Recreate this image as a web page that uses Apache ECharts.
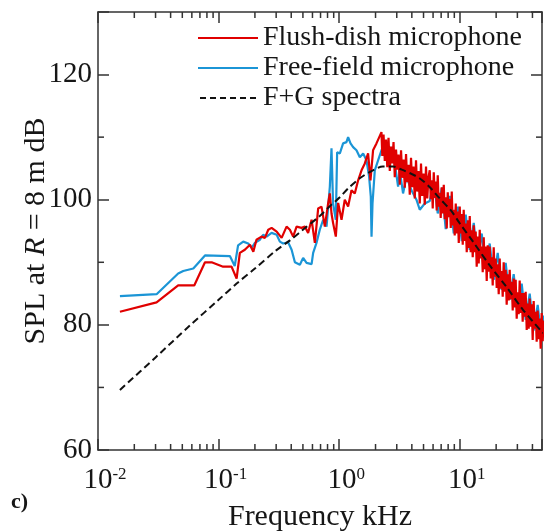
<!DOCTYPE html>
<html><head><meta charset="utf-8">
<script src="https://cdn.jsdelivr.net/npm/echarts@6/dist/echarts.min.js"></script>
<style>html,body{margin:0;padding:0;background:#fff}#c{width:545px;height:531px}</style>
</head><body><div id="c"></div>
<script>
// ---- data ----
const redFreq = [0.0152,0.0306,0.0462,0.0628,0.0771,0.0875,0.109,0.128,0.141,0.150,0.165,0.182,0.194,0.206,0.227,0.242,0.258,0.275,0.303,0.333,0.366,0.390,0.415,0.443,0.487,0.519,0.552,0.590,0.628,0.669,0.713,0.760,0.809,0.836,0.863,0.889,0.937,0.980,1.045,1.112,1.185,1.264,1.346,1.435,1.531,1.630,1.735,1.816,1.908,2.036,2.170,2.240,
  2.276,2.331,2.387,2.444,2.503,2.563,2.626,2.689,2.754,2.820,2.888,2.958,3.030,3.103,3.178,3.255,3.333,3.414,3.496,3.580,3.666,3.755,3.845,3.938,4.033,4.130,4.230,4.332,4.436,4.543,4.653,4.765,4.881,4.998,5.120,5.243,5.370,5.499,
  5.63,5.74,5.85,5.96,6.08,6.20,6.31,6.43,6.56,6.69,6.81,6.94,7.08,7.22,7.36,7.50,7.64,7.79,7.94,8.09,8.25,8.41,8.57,8.74,8.90,9.07,9.25,9.43,9.61,9.80,9.98,10.17,10.37,10.57,10.77,10.98,11.19,11.41,11.63,11.85,12.08,12.31,12.55,12.79,13.04,13.29,13.54,13.80,14.07,14.34,14.62,14.90,15.19,15.48,15.78,16.08,16.39,16.71,17.03,17.36,17.69,18.03,18.38,18.73,19.09,19.46,19.84,20.22,20.61,21.01,21.41,21.82,22.24,22.67,23.10,23.55,24.00,24.46,24.94,25.42,25.91,26.41,26.92,27.44,27.96,28.50,29.05,29.61,30.18,30.76,31.35,31.95,32.57,33.20,33.83,34.48,35.16,35.84,36.52,37.22,37.94,38.67,39.42,40.18,40.95,41.74,42.54,43.36,44.20,45.05,45.92,46.81,47.70,48.62,49.56];
const redSPL = [82.1,83.6,86.3,86.3,90.0,90.0,89.3,89.3,87.4,91.5,92.0,92.8,91.7,93.6,94.1,93.9,95.2,95.5,94.9,93.9,95.7,95.2,94.1,95.7,95.5,95.7,94.7,96.8,93.1,98.6,98.9,95.7,99.4,101.0,97.8,96.3,94.1,99.5,96.8,100.0,98.9,101.5,101.0,103.1,104.7,105.8,107.4,103.1,107.9,109.0,110.2,110.8,
  107.0,110.4,106.2,109.6,105.2,109.9,104.6,108.5,105.8,109.2,103.6,108.0,104.8,107.2,102.4,107.9,103.5,106.4,101.9,107.3,102.8,105.6,100.8,106.7,102.0,105.3,100.2,106.3,101.3,104.6,99.4,105.8,100.6,104.2,99.2,105.3,100.2,103.6,
  104.7,100.1,103.1,98.6,104.4,100.3,102.9,98.3,103.9,98.9,101.1,97.1,102.0,97.8,102.4,96.9,100.4,95.4,101.2,97.2,
  100.1,95.5,101.3,95.9,98.4,94.3,99.4,94.6,98.1,93.1,98.9,94.6,97.7,92.8,98.4,93.4,96.2,91.6,96.7,92.3,
  97.4,91.6,95.1,90.8,95.9,91.6,94.9,89.3,94.1,89.8,95.2,90.6,92.5,88.4,94.0,88.9,92.5,87.0,92.7,88.5,
  92.5,87.4,90.8,86.3,92.4,87.7,90.6,85.9,89.7,84.9,90.6,85.8,88.6,84.5,90.0,85.3,88.8,83.2,88.1,83.9,
  88.8,84.1,86.9,82.3,87.4,82.8,87.2,81.0,85.2,81.7,87.1,81.9,85.1,80.5,85.1,81.3,85.3,79.2,83.4,79.4,
  84.2,79.7,83.3,77.6,83.8,79.4,82.1,77.3,82.3,77.7,81.0,76.2,81.9,77.4,80.7];

const blueFreq = [0.0152,0.0306,0.0462,0.0509,0.0617,0.0771,0.124,0.136,0.145,0.160,0.176,0.188,0.200,0.220,0.234,0.250,0.275,0.303,0.322,0.343,0.377,0.403,0.429,0.472,0.502,0.536,0.590,0.608,0.648,0.690,0.736,0.785,0.836,0.863,0.889,0.937,0.961,1.012,1.077,1.148,1.185,1.241,1.304,1.390,1.482,1.579,1.683,1.769,1.827,1.853,1.888,1.972,2.100,2.240,2.387,2.541,2.710,2.888,3.077,3.178,3.383,3.614,3.971,4.368,4.653,5.118,
  5.63,6.08,6.56,7.08,7.64,8.25,8.90,9.61,10.37,11.19,12.08,13.04,14.07,15.19,16.39,17.69,19.09,20.61,22.24,24.00,25.91,27.96,30.18,32.57,35.16,37.94,40.95,44.20,47.70,49.56];
const blueSPL = [84.6,84.9,88.2,88.6,89.0,91.1,91.0,89.4,92.7,93.3,93.0,92.3,93.1,93.6,94.4,94.1,94.7,94.4,93.3,93.0,93.2,92.0,90.0,89.6,90.7,89.9,89.7,91.5,93.1,95.2,96.8,95.7,102.1,108.2,99.4,96.8,107.6,107.4,109.0,109.2,110.0,109.0,108.4,107.9,106.8,107.4,106.3,103.7,100.5,94.1,99.4,104.7,106.3,107.9,109.0,107.4,108.4,105.8,102.1,104.7,101.0,103.7,101.5,100.0,98.4,99.4,
  99.8,103.0,97.8,101.9,95.3,100.6,94.6,98.9,93.4,97.6,92.0,96.3,90.4,94.6,88.9,93.0,87.2,91.5,85.6,89.9,84.0,88.1,82.3,86.6,80.8,85.0,79.1,83.2,77.6,81.5];

const fgFreq = [0.0152,0.03,0.0578,0.1,0.141,0.2,0.3,0.39,0.5,0.69,0.84,1.0,1.2,1.5,1.9,2.3,2.8,3.3,4.0,4.66,5.64,6.81,8.5,10,12.86,17.7,24.3,33.4,48.9];
const fgSPL  = [69.6,74.8,79.9,84.0,86.6,89.0,91.9,93.5,95.2,97.4,99.0,100.3,101.9,103.5,104.7,105.3,105.3,104.8,104.1,103.4,102.0,100.2,98.2,96.2,93.3,89.5,86.1,82.4,78.7];

const seriesNames = ['Flush-dish microphone','Free-field microphone','F+G spectra'];
const xMinorTicks = [0.02,0.03,0.04,0.05,0.06,0.07,0.08,0.09,0.2,0.3,0.4,0.5,0.6,0.7,0.8,0.9,2,3,4,5,6,7,8,9,20,30,40];
const yMinorTicks = [70,90,110];
const yTickLabels = [60,80,100,120];
const xRange = [0.01, 48];
const yRange = [60, 130];

// ---- chart ----
const SERIF = 'Liberation Serif';
const AX = '#333333';
const TXT = '#161616';
const RED = '#e00000', BLUE = '#1b95d6', BLACK = '#111111';
const axLine = {show:true, lineStyle:{color:AX, width:1.5}};
const pairs = (xs, ys) => xs.map((x, i) => [x, ys[i]]);

function xLabel(v){
  const l = Math.log10(v);
  const r = Math.round(l);
  if (Math.abs(l - r) > 1e-6) return '';
  return '{b|10}{s|' + r + '}';
}
function yLabel(v){ return yTickLabels.indexOf(v) >= 0 ? String(v) : ''; }

function xAxis(pos, main){
  return {
    type:'log', logBase:10, min:xRange[0], max:xRange[1], position:pos,
    axisLine:axLine,
    axisTick:{show:true, inside:true, length:11, lineStyle:{color:AX, width:1.5}},
    minorTick:{show:false}, splitLine:{show:false},
    axisLabel: main ? {show:true, margin:16, formatter:xLabel, padding:[0,0,0,14],
      rich:{ b:{fontFamily:SERIF, fontSize:29, lineHeight:29, color:TXT},
             s:{fontFamily:SERIF, fontSize:17, lineHeight:17, color:TXT, verticalAlign:'top'} } } : {show:false},
    name: main ? 'Frequency kHz' : '', nameLocation:'middle', nameGap:52,
    nameTextStyle:{fontFamily:SERIF, fontSize:30, color:TXT}
  };
}
function yAxis(pos, main){
  return {
    type:'value', min:yRange[0], max:yRange[1], interval:20, position:pos,
    axisLine:axLine,
    axisTick:{show:true, inside:true, length:11, lineStyle:{color:AX, width:1.5}},
    splitLine:{show:false},
    axisLabel: main ? {show:true, margin:6, formatter:yLabel, fontFamily:SERIF, fontSize:29, color:TXT} : {show:false},
    name: main ? 'SPL at {i|R} = 8 m dB' : '', nameLocation:'middle', nameGap:47, nameMoveOverlap:false,
    nameTextStyle:{fontFamily:SERIF, fontSize:30, color:TXT,
      rich:{i:{fontFamily:SERIF, fontSize:30, fontStyle:'italic', color:TXT}}}
  };
}

const dashIcon = 'path://M0,0h6v2h-6zM10,0h6v2h-6zM20,0h6v2h-6zM30,0h6v2h-6zM40,0h6v2h-6zM50,0h6v2h-6z';
const tickStyle = {stroke:AX, lineWidth:1.5};
const chart = echarts.init(document.getElementById('c'), null, {renderer:'canvas'});
chart.setOption({
  animation:false,
  backgroundColor:'#ffffff',
  grid:{left:98, right:3, top:12, bottom:81, containLabel:false, outerBoundsMode:'none'},
  xAxis:[xAxis('bottom', true), xAxis('top', false)],
  yAxis:[yAxis('left', true), yAxis('right', false)],
  legend:{
    data:[{name:seriesNames[0], icon:'rect'}, {name:seriesNames[1], icon:'rect'}, {name:seriesNames[2], icon:dashIcon}],
    orient:'vertical', left:198, top:23, padding:0, itemGap:0,
    itemWidth:60, itemHeight:2,
    textStyle:{fontFamily:SERIF, fontSize:28, lineHeight:30, color:TXT}
  },
  graphic:[{type:'text', left:11, top:491, style:{text:'c)', font:'bold 22px "Liberation Serif"', fill:TXT}}],
  series:[
    {type:'line', name:seriesNames[1], data:pairs(blueFreq, blueSPL), symbol:'none', z:2,
     lineStyle:{color:BLUE, width:2.2}, itemStyle:{color:BLUE}},
    {type:'line', name:seriesNames[0], data:pairs(redFreq, redSPL), symbol:'none', z:3,
     lineStyle:{color:RED, width:2.2}, itemStyle:{color:RED}},
    {type:'line', name:seriesNames[2], data:pairs(fgFreq, fgSPL), symbol:'none', smooth:0.3, z:4,
     lineStyle:{color:BLACK, width:2, type:[7,4]}, itemStyle:{color:BLACK}},
    {type:'custom', name:'xminor', silent:true, clip:false, z:5,
     data:xMinorTicks.map(v => [v, yRange[0]]),
     renderItem:(params, api) => {
       const cs = params.coordSys; const p = api.coord([api.value(0), api.value(1)]);
       return {type:'group', children:[
         {type:'line', shape:{x1:p[0], y1:cs.y+cs.height, x2:p[0], y2:cs.y+cs.height-6}, style:tickStyle},
         {type:'line', shape:{x1:p[0], y1:cs.y, x2:p[0], y2:cs.y+6}, style:tickStyle}
       ]};
     }},
    {type:'custom', name:'yminor', silent:true, clip:false, z:5,
     data:yMinorTicks.map(v => [xRange[0], v]),
     renderItem:(params, api) => {
       const cs = params.coordSys; const p = api.coord([api.value(0), api.value(1)]);
       return {type:'group', children:[
         {type:'line', shape:{x1:cs.x, y1:p[1], x2:cs.x+6, y2:p[1]}, style:tickStyle},
         {type:'line', shape:{x1:cs.x+cs.width, y1:p[1], x2:cs.x+cs.width-6, y2:p[1]}, style:tickStyle}
       ]};
     }}
  ]
});
</script></body></html>
